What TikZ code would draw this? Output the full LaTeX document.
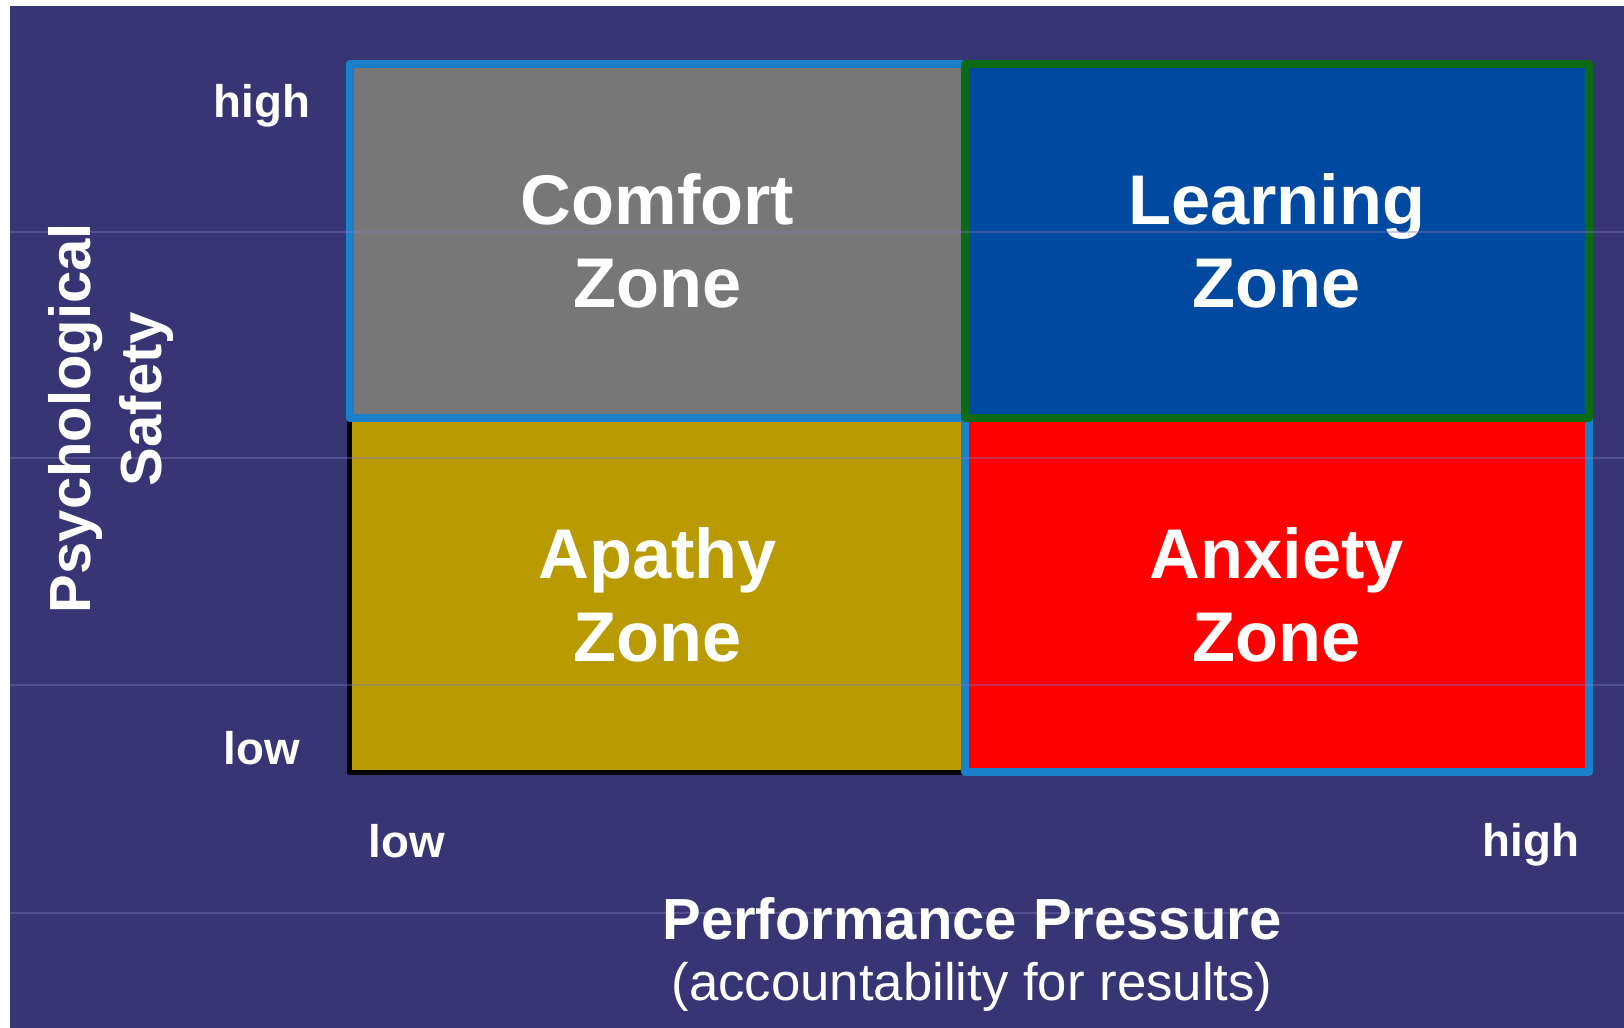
\documentclass[tikz,border=0pt]{standalone}
\usepackage{fontspec}
\setmainfont{Liberation Sans}
\usetikzlibrary{positioning}
\definecolor{slidebg}{RGB}{55,53,115}
\definecolor{zonegray}{RGB}{119,119,119}
\definecolor{zoneblue}{RGB}{0,73,160}
\definecolor{zoneolive}{RGB}{185,154,0}
\definecolor{zonered}{RGB}{255,0,0}
\definecolor{edgeblue}{RGB}{27,128,202}
\definecolor{edgegreen}{RGB}{10,107,20}
\definecolor{streak}{RGB}{125,120,190}
\tikzstyle{zone}=[rectangle,inner sep=0pt,outer sep=0pt,minimum height=3.54cm,align=center,text=white,font=\fontsize{20}{23.6}\selectfont\bfseries]
\tikzstyle{tick}=[text=white,font=\fontsize{13}{15}\selectfont\bfseries]
\tikzstyle{axis}=[text=white,font=\fontsize{16.5}{19}\selectfont\bfseries]
\tikzstyle{rim}=[line width=2.3pt,line join=round]

\begin{document}
\begin{tikzpicture}[x=0.01cm,y=-0.01cm,node distance=0pt]
  \fill[white] (0,0) rectangle (1624,1028);
  \fill[slidebg] (10,6) rectangle (1624,1028);
  \useasboundingbox (0,0) rectangle (1624,1028);

  % the four zones
  \node[zone,fill=zonegray,minimum width=6.15cm] (comfort) at (657.5,241) {Comfort\\Zone};
  \node[zone,fill=zoneblue,minimum width=6.23cm] (learning) [right=of comfort] {Learning\\Zone};
  \node[zone,fill=zoneolive,minimum width=6.15cm] (apathy) [below=of comfort] {Apathy\\Zone};
  \node[zone,fill=zonered,minimum width=6.23cm] (anxiety) [right=of apathy] {Anxiety\\Zone};

  \draw[rim,black,line width=1.5pt] (apathy.north west) -- (apathy.south west) -- (apathy.south east);
  \draw[rim,edgeblue] (anxiety.north west) -- (anxiety.south west) -- (anxiety.south east) -- (anxiety.north east);
  \draw[rim,edgeblue] (comfort.north west) rectangle (comfort.south east);
  \draw[rim,edgegreen] (learning.north west) rectangle (learning.south east);

  % faint scan lines of the slide
  \foreach \y in {232,458,685,913}
    \draw[streak,opacity=0.4,line width=0.6pt] (10,\y) -- (1624,\y);

  % axis labels
  \node[tick] (yhigh) at (262,106) {high};
  \node[tick] (ylow) at (262,748) {low};
  \node[tick] (xlow) at (407,841) {low};
  \node[tick] (xhigh) at (1531,845) {high};
  \node[axis] (xaxis) at (972,919) {Performance Pressure};
  \node[text=white,font=\fontsize{15}{18}\selectfont] (xnote) at (972,987) {(accountability for results)};
  \node[axis,rotate=90] (yaxis) at (76,418) {Psychological};
  \node[axis,rotate=90] (ysafe) at (146,399) {Safety};
\end{tikzpicture}
\end{document}
